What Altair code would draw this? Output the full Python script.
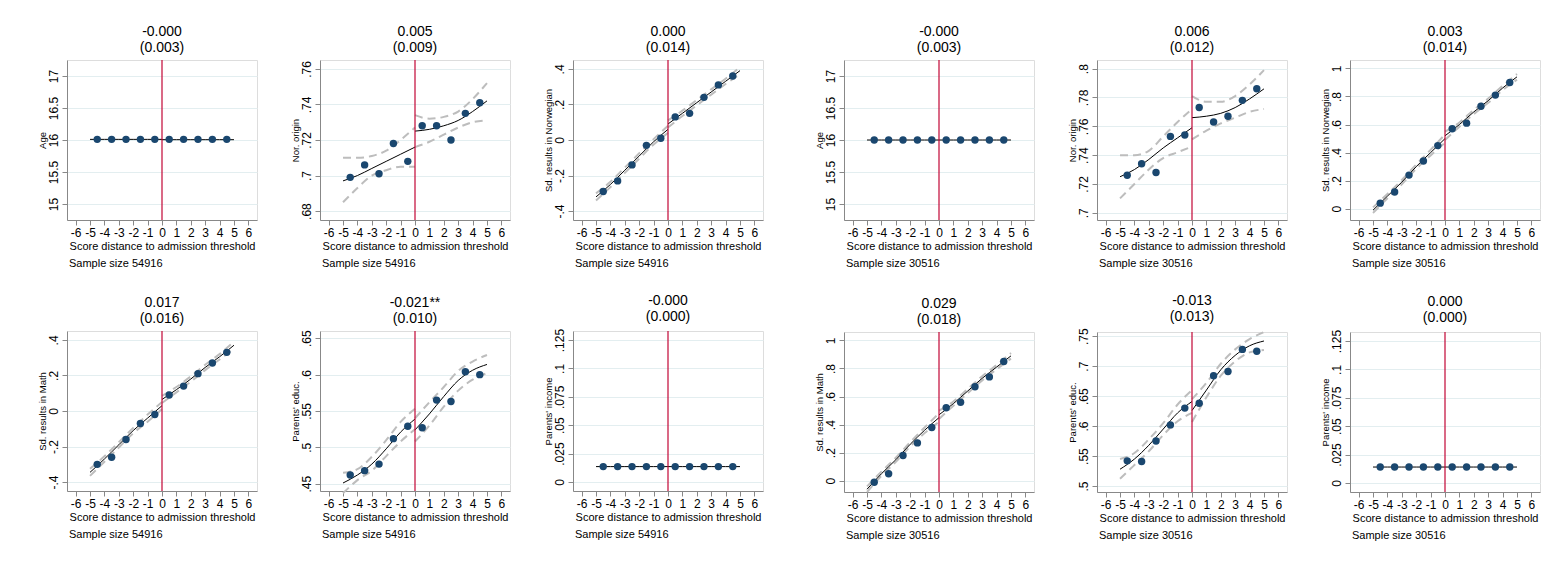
import altair as alt
import pandas as pd

FONT = "Liberation Sans"
NAVY = "#1a476f"

dot_x = [-4.5, -3.5, -2.5, -1.5, -0.5, 0.5, 1.5, 2.5, 3.5, 4.5]
fit_x_left = [-5, -4, -3, -2, -1, 0]
fit_x_right = [0, 1, 2, 3, 4, 5]

# --- sample 54916 ---
age_a_dots = [16.01] * 10
age_a_fit_l = [16.01] * 6
age_a_fit_r = [16.005] * 6

nor_a_dots = [0.699, 0.706, 0.701, 0.718, 0.708, 0.728, 0.728, 0.720, 0.735, 0.741]
nor_a_fit_l = [0.697, 0.700, 0.704, 0.708, 0.712, 0.716]
nor_a_fit_r = [0.725, 0.726, 0.728, 0.731, 0.736, 0.742]
nor_a_hi_l = [0.710, 0.710, 0.711, 0.714, 0.720, 0.727]
nor_a_lo_l = [0.685, 0.693, 0.700, 0.703, 0.705, 0.705]
nor_a_hi_r = [0.734, 0.732, 0.733, 0.736, 0.743, 0.752]
nor_a_lo_r = [0.716, 0.719, 0.723, 0.727, 0.730, 0.731]

sdn_a_dots = [-0.29, -0.23, -0.14, -0.03, 0.01, 0.13, 0.15, 0.24, 0.31, 0.36]
sdn_a_fit_l = [-0.32, -0.25, -0.17, -0.09, -0.01, 0.06]
sdn_a_fit_r = [0.09, 0.15, 0.21, 0.27, 0.33, 0.39]
sdn_a_hi_l = [-0.30, -0.235, -0.155, -0.075, 0.005, 0.08]
sdn_a_lo_l = [-0.34, -0.265, -0.185, -0.105, -0.025, 0.04]
sdn_a_hi_r = [0.11, 0.165, 0.225, 0.285, 0.345, 0.41]
sdn_a_lo_r = [0.07, 0.135, 0.195, 0.255, 0.315, 0.37]

mat_a_dots = [-0.30, -0.26, -0.16, -0.07, -0.02, 0.09, 0.14, 0.21, 0.27, 0.33]
mat_a_fit_l = [-0.345, -0.27, -0.19, -0.11, -0.04, 0.03]
mat_a_fit_r = [0.065, 0.12, 0.18, 0.245, 0.305, 0.37]
mat_a_hi_l = [-0.325, -0.255, -0.175, -0.095, -0.02, 0.05]
mat_a_lo_l = [-0.365, -0.285, -0.205, -0.125, -0.06, 0.01]
mat_a_hi_r = [0.085, 0.135, 0.195, 0.26, 0.32, 0.39]
mat_a_lo_r = [0.045, 0.105, 0.165, 0.23, 0.29, 0.35]

edu_a_dots = [0.462, 0.468, 0.477, 0.512, 0.529, 0.527, 0.565, 0.563, 0.604, 0.600]
edu_a_fit_l = [0.451, 0.462, 0.477, 0.498, 0.521, 0.539]
edu_a_fit_r = [0.524, 0.546, 0.570, 0.592, 0.606, 0.614]
edu_a_hi_l = [0.465, 0.470, 0.487, 0.510, 0.535, 0.553]
edu_a_lo_l = [0.437, 0.455, 0.468, 0.488, 0.508, 0.525]
edu_a_hi_r = [0.540, 0.562, 0.583, 0.605, 0.618, 0.627]
edu_a_lo_r = [0.508, 0.530, 0.556, 0.578, 0.593, 0.602]

inc_a_dots = [0.0135] * 10
inc_a_fit_l = [0.0135] * 6
inc_a_fit_r = [0.0135] * 6

# --- sample 30516 ---
age_b_dots = [16.0] * 10
age_b_fit_l = [16.0] * 6
age_b_fit_r = [16.0] * 6

nor_b_dots = [0.726, 0.734, 0.728, 0.753, 0.754, 0.773, 0.763, 0.767, 0.778, 0.786]
nor_b_fit_l = [0.725, 0.730, 0.737, 0.745, 0.752, 0.759]
nor_b_fit_r = [0.766, 0.767, 0.769, 0.773, 0.779, 0.786]
nor_b_hi_l = [0.740, 0.740, 0.743, 0.753, 0.763, 0.772]
nor_b_lo_l = [0.710, 0.720, 0.730, 0.738, 0.742, 0.746]
nor_b_hi_r = [0.781, 0.777, 0.777, 0.781, 0.789, 0.799]
nor_b_lo_r = [0.751, 0.757, 0.762, 0.766, 0.770, 0.772]

sdn_b_dots = [0.04, 0.12, 0.24, 0.34, 0.45, 0.57, 0.61, 0.73, 0.81, 0.90]
sdn_b_fit_l = [-0.01, 0.09, 0.19, 0.30, 0.40, 0.50]
sdn_b_fit_r = [0.52, 0.60, 0.69, 0.77, 0.86, 0.94]
sdn_b_hi_l = [0.01, 0.105, 0.205, 0.315, 0.42, 0.53]
sdn_b_lo_l = [-0.03, 0.075, 0.175, 0.285, 0.38, 0.47]
sdn_b_hi_r = [0.55, 0.615, 0.705, 0.785, 0.875, 0.96]
sdn_b_lo_r = [0.49, 0.585, 0.675, 0.755, 0.845, 0.92]

mat_b_dots = [-0.01, 0.05, 0.18, 0.27, 0.38, 0.52, 0.56, 0.67, 0.74, 0.85]
mat_b_fit_l = [-0.06, 0.05, 0.15, 0.26, 0.36, 0.45]
mat_b_fit_r = [0.47, 0.55, 0.64, 0.73, 0.81, 0.89]
mat_b_hi_l = [-0.04, 0.065, 0.165, 0.275, 0.38, 0.48]
mat_b_lo_l = [-0.08, 0.035, 0.135, 0.245, 0.34, 0.42]
mat_b_hi_r = [0.50, 0.565, 0.655, 0.745, 0.825, 0.91]
mat_b_lo_r = [0.44, 0.535, 0.625, 0.715, 0.795, 0.87]

edu_b_dots = [0.542, 0.541, 0.575, 0.602, 0.630, 0.638, 0.684, 0.691, 0.728, 0.725]
edu_b_fit_l = [0.528, 0.545, 0.568, 0.595, 0.622, 0.641]
edu_b_fit_r = [0.626, 0.660, 0.694, 0.718, 0.734, 0.742]
edu_b_hi_l = [0.545, 0.555, 0.578, 0.605, 0.636, 0.660]
edu_b_lo_l = [0.512, 0.535, 0.558, 0.585, 0.608, 0.622]
edu_b_hi_r = [0.645, 0.672, 0.704, 0.728, 0.745, 0.757]
edu_b_lo_r = [0.607, 0.648, 0.684, 0.708, 0.723, 0.727]

inc_b_dots = [0.014] * 10
inc_b_fit_l = [0.014] * 6
inc_b_fit_r = [0.014] * 6

x_ticks = list(range(-6, 7))
W, H = 190, 160


def panel(title, ytitle, yticks, ydomain, dots, fit_l, fit_r, sample,
          hi_l=None, lo_l=None, hi_r=None, lo_r=None):
    xenc = alt.X("x:Q", scale=alt.Scale(domain=[-6.6, 6.6], nice=False),
                 axis=alt.Axis(values=x_ticks, title="Score distance to admission threshold",
                               grid=False, labelFontSize=12, titleFontSize=11,
                               labelOverlap=False, labelFlush=False, labelSeparation=0,
                               labelExpr="toString(datum.value)",
                               titleFontWeight="normal", labelPadding=2, titlePadding=2))
    yenc = alt.Y("y:Q", scale=alt.Scale(domain=ydomain, nice=False, zero=False),
                 axis=alt.Axis(values=yticks, title=ytitle, labelAngle=270,
                               labelAlign="center", labelBaseline="bottom",
                               labelOverlap=False, labelFlush=False,
                               labelExpr="replace(toString(datum.value), /^(-?)0\\./, '$1.')",
                               gridColor="#e3eef0", labelFontSize=12, titleFontSize=9.5,
                               titleFontWeight="normal", titlePadding=0))
    layers = []

    def line(xs, ys, **kw):
        return (alt.Chart(pd.DataFrame({"x": xs, "y": ys}))
                .mark_line(interpolate="monotone", **kw)
                .encode(x=xenc, y=yenc))

    if hi_l is not None:
        for xs, ys in [(fit_x_left, hi_l), (fit_x_left, lo_l), (fit_x_right, hi_r), (fit_x_right, lo_r)]:
            layers.append(line(xs, ys, color="#bdbdbd", strokeWidth=2, strokeDash=[8, 5]))
    layers.append(line(fit_x_left, fit_l, color="black", strokeWidth=1))
    layers.append(line(fit_x_right, fit_r, color="black", strokeWidth=1))
    layers.append(alt.Chart(pd.DataFrame({"x": [0]})).mark_rule(color="#c10534", strokeWidth=1.2)
                  .encode(x=xenc))
    layers.append(alt.Chart(pd.DataFrame({"x": dot_x, "y": dots}))
                  .mark_circle(color=NAVY, size=55, opacity=1)
                  .encode(x=xenc, y=yenc))
    layers.append(alt.Chart(pd.DataFrame({"t": [f"Sample size {sample}"]}))
                  .mark_text(align="left", baseline="middle", fontSize=11, font=FONT)
                  .encode(text="t:N", x=alt.value(2), y=alt.value(H + 44)))
    return alt.layer(*layers).properties(
        width=W, height=H,
        title=alt.TitleParams(title, fontSize=14, fontWeight="normal", font=FONT, offset=4),
    )


def ticks(start, step, n):
    return [round(start + i * step, 4) for i in range(n)]


pa = [
    panel(["-0.000", "(0.003)"], "Age", ticks(15, 0.5, 5), [14.75, 17.25], age_a_dots, age_a_fit_l, age_a_fit_r, 54916),
    panel(["0.005", "(0.009)"], "Nor. origin", ticks(0.68, 0.02, 5), [0.675, 0.765], nor_a_dots, nor_a_fit_l, nor_a_fit_r, 54916,
          nor_a_hi_l, nor_a_lo_l, nor_a_hi_r, nor_a_lo_r),
    panel(["0.000", "(0.014)"], "Sd. results in Norwegian", ticks(-0.4, 0.2, 5), [-0.45, 0.45], sdn_a_dots, sdn_a_fit_l, sdn_a_fit_r, 54916,
          sdn_a_hi_l, sdn_a_lo_l, sdn_a_hi_r, sdn_a_lo_r),
    panel(["0.017", "(0.016)"], "Sd. results in Math", ticks(-0.4, 0.2, 5), [-0.45, 0.45], mat_a_dots, mat_a_fit_l, mat_a_fit_r, 54916,
          mat_a_hi_l, mat_a_lo_l, mat_a_hi_r, mat_a_lo_r),
    panel(["-0.021**", "(0.010)"], "Parents' educ.", ticks(0.45, 0.05, 5), [0.44, 0.66], edu_a_dots, edu_a_fit_l, edu_a_fit_r, 54916,
          edu_a_hi_l, edu_a_lo_l, edu_a_hi_r, edu_a_lo_r),
    panel(["-0.000", "(0.000)"], "Parents' income", ticks(0, 0.025, 6), [-0.008, 0.133], inc_a_dots, inc_a_fit_l, inc_a_fit_r, 54916),
]
pb = [
    panel(["-0.000", "(0.003)"], "Age", ticks(15, 0.5, 5), [14.75, 17.25], age_b_dots, age_b_fit_l, age_b_fit_r, 30516),
    panel(["0.006", "(0.012)"], "Nor. origin", ticks(0.7, 0.02, 6), [0.695, 0.806], nor_b_dots, nor_b_fit_l, nor_b_fit_r, 30516,
          nor_b_hi_l, nor_b_lo_l, nor_b_hi_r, nor_b_lo_r),
    panel(["0.003", "(0.014)"], "Sd. results in Norwegian", ticks(0, 0.2, 6), [-0.08, 1.06], sdn_b_dots, sdn_b_fit_l, sdn_b_fit_r, 30516,
          sdn_b_hi_l, sdn_b_lo_l, sdn_b_hi_r, sdn_b_lo_r),
    panel(["0.029", "(0.018)"], "Sd. results in Math", ticks(0, 0.2, 6), [-0.08, 1.06], mat_b_dots, mat_b_fit_l, mat_b_fit_r, 30516,
          mat_b_hi_l, mat_b_lo_l, mat_b_hi_r, mat_b_lo_r),
    panel(["-0.013", "(0.013)"], "Parents' educ.", ticks(0.5, 0.05, 6), [0.49, 0.757], edu_b_dots, edu_b_fit_l, edu_b_fit_r, 30516,
          edu_b_hi_l, edu_b_lo_l, edu_b_hi_r, edu_b_lo_r),
    panel(["0.000", "(0.000)"], "Parents' income", ticks(0, 0.025, 6), [-0.008, 0.133], inc_b_dots, inc_b_fit_l, inc_b_fit_r, 30516),
]


def group(p):
    return alt.vconcat(
        alt.hconcat(*p[:3], spacing=31),
        alt.hconcat(*p[3:], spacing=31),
        spacing=23,
    )


chart = (
    alt.hconcat(group(pa), group(pb), spacing=49)
    .properties(padding={"left": 28, "top": 16, "right": 5, "bottom": 5})
    .configure_view(stroke=None)
    .configure_axis(domainColor="black", tickColor="black", labelColor="black",
                    titleColor="black", labelFont=FONT, titleFont=FONT, tickSize=5)
    .configure(background="white")
)

chart.save("out.html", embed_options={"renderer": "svg", "actions": False})
